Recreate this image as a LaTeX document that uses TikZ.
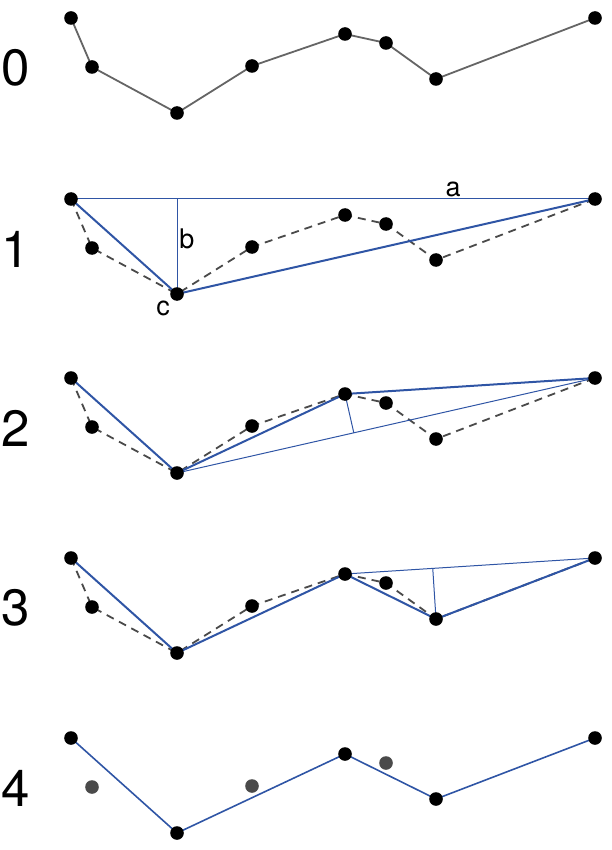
\documentclass[tikz,border=0pt]{standalone}
\usepackage{fontspec}
\setmainfont{TeX Gyre Heros}
\usetikzlibrary{calc}
\definecolor{fitblue}{HTML}{2F55A5}
\definecolor{darkgrey}{HTML}{4A4A4A}

\tikzset{
  oldline/.style={draw=darkgrey!85, line width=1.8pt},
  dashline/.style={draw=darkgrey, line width=1.8pt, dash pattern=on 8pt off 6pt},
  thinfit/.style={draw=fitblue, line width=1pt},
  fitline/.style={draw=fitblue, line width=2pt},
  rowlabel/.style={font=\fontsize{51}{51}\selectfont, inner sep=0pt},
  letter/.style={font=\fontsize{27}{27}\selectfont, inner sep=0pt}
}

\begin{document}
\begin{tikzpicture}[x=1pt,y=-1pt]
\useasboundingbox (0,0) rectangle (611,850);

% the same eight points in every row, shifted down
\foreach \r/\dy in {0/0,1/181,2/360,3/540,4/720}{
  \foreach \px/\py [count=\i] in {71/18,92/67,177/113,252/66,345/34,386/43,436/79,595/18}
    \coordinate (r\r-\i) at (\px,\py+\dy);
}

% row numbers
\node[rowlabel] (n0) at (16,68) {0};
\node[rowlabel] (n1) at (16,249) {1};
\node[rowlabel] (n2) at (16,428) {2};
\node[rowlabel] (n3) at (16,608) {3};
\node[rowlabel] (n4) at (16,788) {4};

% row 0: the original line
\draw[oldline] (r0-1) -- (r0-2) -- (r0-3) -- (r0-4) -- (r0-5) -- (r0-6) -- (r0-7) -- (r0-8);

% rows 1-3: original line dashed
\foreach \r in {1,2,3}
  \draw[dashline] (r\r-1) -- (r\r-2) -- (r\r-3) -- (r\r-4) -- (r\r-5) -- (r\r-6) -- (r\r-7) -- (r\r-8);

% row 1
\draw[thinfit] (r1-1) -- (r1-8); %a
\draw[thinfit] (r1-3) -- ($(r1-1)!(r1-3)!(r1-8)$); %b
\draw[fitline] (r1-1) -- (r1-3) -- (r1-8);
\node[letter] (la) at (453,189) {a};
\node[letter] (lb) at (187,239) {b};
\node[letter] (lc) at (163,308) {c};

% row 2
\draw[thinfit] (r2-3) -- (r2-8);
\draw[thinfit] (r2-5) -- ($(r2-3)!(r2-5)!(r2-8)$);
\draw[fitline] (r2-1) -- (r2-3) -- (r2-5) -- (r2-8);

% row 3
\draw[thinfit] (r3-5) -- (r3-8);
\draw[thinfit] (r3-7) -- ($(r3-5)!(r3-7)!(r3-8)$);
\draw[fitline] (r3-1) -- (r3-3) -- (r3-5) -- (r3-7) -- (r3-8);

% row 4: the simplified line
\draw[fitline, line width=1.6pt] (r4-1) -- (r4-3) -- (r4-5) -- (r4-7) -- (r4-8);

% the points
\foreach \r in {0,1,2,3}
  \foreach \i in {1,...,8}
    \fill (r\r-\i) circle (6.8);
\foreach \i in {1,3,5,7,8}
  \fill (r4-\i) circle (6.8);
\foreach \i in {2,4,6}
  \fill[darkgrey] (r4-\i) circle (6.8);
\end{tikzpicture}
\end{document}
